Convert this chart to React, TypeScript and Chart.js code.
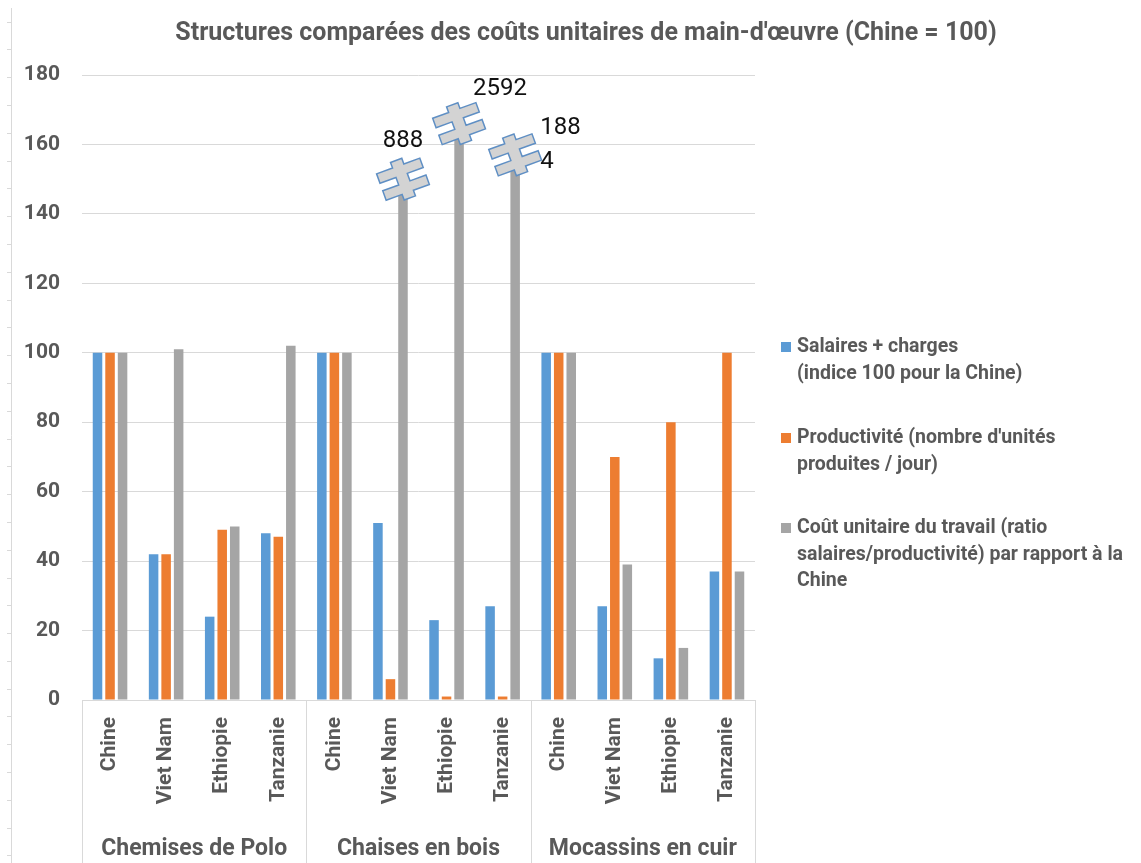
import React, { useEffect, useRef } from "react";
import { Chart, registerables } from "chart.js";

Chart.register(...registerables);

const title = "Structures comparées des coûts unitaires de main-d'œuvre (Chine = 100)";
const categories = [
  "Chine", "Viet Nam", "Ethiopie", "Tanzanie",
  "Chine", "Viet Nam", "Ethiopie", "Tanzanie",
  "Chine", "Viet Nam", "Ethiopie", "Tanzanie",
];
const groups = ["Chemises de Polo", "Chaises en bois", "Mocassins en cuir"];
const groupSize = 4;
const seriesNames = [
  ["Salaires + charges", "(indice 100 pour la Chine)"],
  ["Productivité (nombre d'unités", "produites / jour)"],
  ["Coût unitaire du travail (ratio", "salaires/productivité) par rapport à la", "Chine"],
];
const salaires = [100, 42, 24, 48, 100, 51, 23, 27, 100, 27, 12, 37];
const productivite = [100, 42, 49, 47, 100, 6, 1, 1, 100, 70, 80, 100];
// displayed (truncated) heights for broken bars
const coutUnitaire = [100, 101, 50, 102, 100, 150, 166, 157, 100, 39, 15, 37];
// real values of the broken bars, shown as labels
const breakLabels: (string[] | null)[] = [
  null, null, null, null,
  null, ["888"], ["2592"], ["188", "4"],
  null, null, null, null,
];
const yTicks = { min: 0, max: 180, step: 20 };
const colors = ["#5b9bd5", "#ed7d31", "#a5a5a5"];

const FONT = 'Roboto, Lato, "Open Sans", sans-serif';
const GREY_TEXT = "#595959";

// label offsets relative to break symbol centre
const labelOffsets: Record<number, { dx: number; dy: number; align: CanvasTextAlign; lineH?: number }> = {
  5: { dx: 0, dy: -38, align: "center" },
  6: { dx: 41, dy: -35, align: "center" },
  7: { dx: 25, dy: -27, align: "left", lineH: 34 },
};

function drawBreak(ctx: CanvasRenderingContext2D, cx: number, cy: number) {
  const pts = [
    [-6, -20], [6, -20], [6, -14], [23, -14], [23, -4], [6, -4], [6, 4], [23, 4], [23, 14],
    [6, 14], [6, 20], [-6, 20], [-6, 14], [-23, 14], [-23, 4], [-6, 4], [-6, -4], [-23, -4],
    [-23, -14], [-6, -14],
  ];
  ctx.save();
  ctx.translate(cx, cy);
  ctx.rotate((-20 * Math.PI) / 180);
  ctx.beginPath();
  pts.forEach(([x, y], i) => (i === 0 ? ctx.moveTo(x, y) : ctx.lineTo(x, y)));
  ctx.closePath();
  ctx.fillStyle = "#d3d3d3";
  ctx.fill();
  ctx.strokeStyle = "#5f8fc4";
  ctx.lineWidth = 1.5;
  ctx.lineJoin = "miter";
  ctx.stroke();
  ctx.restore();
}

const customPlugin = {
  id: "custom",
  beforeDraw(chart: any) {
    const ctx = chart.ctx as CanvasRenderingContext2D;
    ctx.save();
    ctx.fillStyle = "#ffffff";
    ctx.fillRect(0, 0, chart.width, chart.height);
    // ruler line on the left edge
    ctx.strokeStyle = "#d9d9d9";
    ctx.lineWidth = 1;
    ctx.beginPath();
    ctx.moveTo(11.5, 8);
    ctx.lineTo(11.5, chart.height);
    ctx.stroke();
    for (let y = 21.5; y < chart.height; y += 27.8) {
      ctx.beginPath();
      ctx.moveTo(7, Math.round(y) + 0.5);
      ctx.lineTo(11.5, Math.round(y) + 0.5);
      ctx.stroke();
    }
    ctx.restore();
  },
  afterDraw(chart: any) {
    const ctx = chart.ctx as CanvasRenderingContext2D;
    const area = chart.chartArea;
    const xs = chart.scales.x;
    ctx.save();

    // title
    ctx.fillStyle = GREY_TEXT;
    ctx.font = `bold 25px ${FONT}`;
    ctx.textAlign = "center";
    ctx.textBaseline = "middle";
    ctx.fillText(title, 586, 34);

    // category axis line
    ctx.strokeStyle = "#d9d9d9";
    ctx.lineWidth = 1;
    ctx.beginPath();
    ctx.moveTo(area.left, Math.round(area.bottom) + 0.5);
    ctx.lineTo(area.right, Math.round(area.bottom) + 0.5);
    ctx.stroke();

    // group separators
    const bounds: number[] = [area.left];
    for (let g = 1; g < groups.length; g++) {
      const i = g * groupSize;
      bounds.push((xs.getPixelForValue(i - 1) + xs.getPixelForValue(i)) / 2);
    }
    bounds.push(area.right);
    bounds.forEach((b) => {
      const x = Math.round(b) + 0.5;
      ctx.beginPath();
      ctx.moveTo(x, area.bottom);
      ctx.lineTo(x, chart.height);
      ctx.stroke();
    });

    // category labels (rotated)
    ctx.fillStyle = GREY_TEXT;
    ctx.font = `bold 21px ${FONT}`;
    categories.forEach((c, i) => {
      const x = xs.getPixelForValue(i);
      ctx.save();
      ctx.translate(x, area.bottom + 17);
      ctx.rotate(-Math.PI / 2);
      ctx.textAlign = "right";
      ctx.textBaseline = "middle";
      ctx.fillText(c, 0, 0);
      ctx.restore();
    });

    // group labels
    ctx.font = `bold 23px ${FONT}`;
    ctx.textAlign = "center";
    ctx.textBaseline = "middle";
    groups.forEach((g, k) => {
      ctx.fillText(g, (bounds[k] + bounds[k + 1]) / 2, 849);
    });

    // break symbols and labels
    const meta = chart.getDatasetMeta(2);
    breakLabels.forEach((lab, i) => {
      if (!lab) return;
      const bar = meta.data[i];
      const cx = bar.x;
      const cy = bar.y;
      drawBreak(ctx, cx, cy);
      const off = labelOffsets[i] || { dx: 0, dy: -38, align: "center" as CanvasTextAlign };
      ctx.fillStyle = "#111111";
      ctx.font = `24px ${FONT}`;
      ctx.textAlign = off.align;
      ctx.textBaseline = "middle";
      lab.forEach((t, j) => {
        ctx.fillText(t, cx + off.dx, cy + off.dy + j * (off.lineH || 28));
      });
    });

    // legend
    const legendX = 781;
    const legendTops = [347, 438, 528];
    const lineH = 26.8;
    ctx.font = `bold 19.5px ${FONT}`;
    ctx.textAlign = "left";
    ctx.textBaseline = "middle";
    seriesNames.forEach((lines, k) => {
      const y0 = legendTops[k];
      ctx.fillStyle = colors[k];
      ctx.fillRect(legendX, y0 - 5, 10, 10);
      ctx.fillStyle = GREY_TEXT;
      lines.forEach((t, j) => ctx.fillText(t, legendX + 16, y0 + j * lineH));
    });

    ctx.restore();
  },
};

export default function App() {
  const canvasRef = useRef<HTMLCanvasElement | null>(null);

  useEffect(() => {
    document.body.style.margin = "0";
    const canvas = canvasRef.current;
    if (!canvas) return;
    const chart = new Chart(canvas, {
      type: "bar",
      data: {
        labels: categories,
        datasets: [
          { label: seriesNames[0].join(" "), data: salaires, backgroundColor: colors[0] },
          { label: seriesNames[1].join(" "), data: productivite, backgroundColor: colors[1] },
          { label: seriesNames[2].join(" "), data: coutUnitaire, backgroundColor: colors[2] },
        ],
      },
      options: {
        responsive: false,
        devicePixelRatio: 1,
        animation: false,
        datasets: { bar: { categoryPercentage: 0.67, barPercentage: 0.76 } },
        layout: { padding: { top: 75, right: 386, left: 0, bottom: 0 } },
        plugins: {
          legend: { display: false },
          title: { display: false },
          tooltip: { enabled: false },
        },
        scales: {
          x: {
            display: true,
            grid: { display: false },
            border: { display: false },
            ticks: { display: false },
            afterFit: (s: any) => {
              s.height = 163;
            },
          },
          y: {
            min: yTicks.min,
            max: yTicks.max,
            ticks: {
              stepSize: yTicks.step,
              color: GREY_TEXT,
              font: { family: FONT, size: 21, weight: "bold" },
              padding: 22,
            },
            grid: { color: "#d9d9d9", drawTicks: false },
            border: { display: false },
            afterFit: (s: any) => {
              s.width = 82;
            },
          },
        },
      },
      plugins: [customPlugin],
    } as any);
    return () => chart.destroy();
  }, []);

  return (
    <div style={{ width: 1141, height: 863 }}>
      <canvas ref={canvasRef} width={1141} height={863} style={{ display: "block" }} />
    </div>
  );
}
